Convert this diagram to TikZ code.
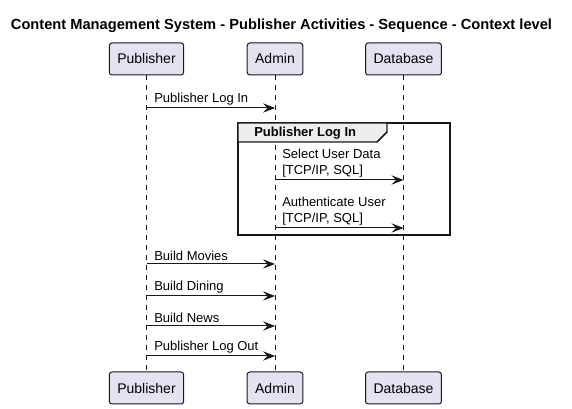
\documentclass[tikz,border=0pt]{standalone}
\usepackage{fontspec}
\setmainfont{Liberation Sans}
\usepackage{tikz}
\usetikzlibrary{arrows.meta}

\definecolor{partfill}{RGB}{226,226,240}
\definecolor{linegray}{RGB}{24,24,24}
\definecolor{tabfill}{RGB}{238,238,238}

\begin{document}
\begin{tikzpicture}[x=0.75pt,y=0.75pt,yscale=-1,xscale=1,
    part/.style={draw=linegray,fill=partfill,line width=0.75pt,rounded corners=2pt,
        minimum height=24pt,inner xsep=6pt,font=\fontsize{10.5pt}{12pt}\selectfont},
    life/.style={draw=linegray,line width=0.5pt,dash pattern=on 3.75pt off 3.75pt},
    msg/.style={draw=linegray,line width=0.75pt,-{Stealth[length=9pt,width=7pt,inset=3.5pt]}},
    lbl/.style={anchor=south west,inner sep=0pt,align=left,
        font=\fontsize{9.75pt}{11.5pt}\selectfont}]
        \useasboundingbox (0,0) rectangle (572,409);

        % Title
        \node (title) at (281.5,26) {\fontsize{11pt}{13pt}\selectfont\bfseries Content Management System - Publisher Activities - Sequence - Context level};

        % Participants
        \node [part] (pubTop) at (146.5,59) {Publisher};
        \node [part] (admTop) at (275,59) {Admin};
        \node [part] (dbTop) at (403.5,59) {Database};
        \node [part] (pubBot) at (146.5,388) {Publisher};
        \node [part] (admBot) at (275,388) {Admin};
        \node [part] (dbBot) at (403.5,388) {Database};

        % Lifelines
        \draw [life] (pubTop.south) -- (pubBot.north);
        \draw [life] (admTop.south) -- (admBot.north);
        \draw [life] (dbTop.south) -- (dbBot.north);

        %Group frame
        \draw [draw=linegray,line width=1.1pt] (238,123) rectangle (450,235);
        \draw [draw=linegray,line width=1.1pt,fill=tabfill] (238,123) -- (387,123) -- (387,132) -- (377,142) -- (238,142) -- cycle;
        \node [anchor=west,inner sep=0pt,font=\fontsize{9.75pt}{11.5pt}\selectfont\bfseries] (grpTitle) at (254,133) {Publisher Log In};

        % Message anchors
        \coordinate (p1) at (146.5,108);
        \coordinate (a1) at (275,108);
        \coordinate (a2) at (275,180);
        \coordinate (d2) at (403.5,180);
        \coordinate (a3) at (275,228);
        \coordinate (d3) at (403.5,228);
        \coordinate (p4) at (146.5,264);
        \coordinate (a4) at (275,264);
        \coordinate (p5) at (146.5,296);
        \coordinate (a5) at (275,296);
        \coordinate (p6) at (146.5,326);
        \coordinate (a6) at (275,326);
        \coordinate (p7) at (146.5,356);
        \coordinate (a7) at (275,356);

        % Messages
        \draw [msg] (p1) -- (a1);
        \node [lbl] (m1) at (154,105) {Publisher Log In};
        \draw [msg] (a2) -- (d2);
        \node [lbl] (m2) at (282,177) {Select User Data\\{[TCP/IP, SQL]}};
        \draw [msg] (a3) -- (d3);
        \node [lbl] (m3) at (282,225) {Authenticate User\\{[TCP/IP, SQL]}};
        \draw [msg] (p4) -- (a4);
        \node [lbl] (m4) at (154,261) {Build Movies};
        \draw [msg] (p5) -- (a5);
        \node [lbl] (m5) at (154,293) {Build Dining};
        \draw [msg] (p6) -- (a6);
        \node [lbl] (m6) at (154,323) {Build News};
        \draw [msg] (p7) -- (a7);
        \node [lbl] (m7) at (154,353) {Publisher Log Out};

    \end{tikzpicture}
\end{document}
